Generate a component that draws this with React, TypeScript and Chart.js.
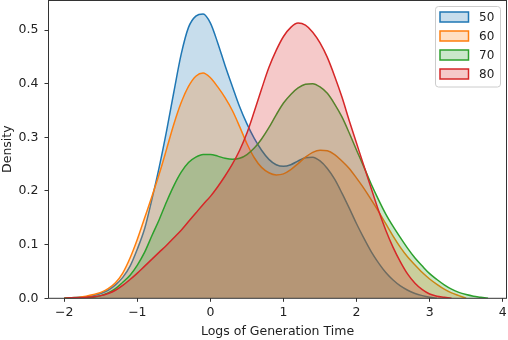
import React, { useEffect, useRef } from 'react';
import { Chart, registerables } from 'chart.js';

Chart.register(...registerables);

// x grid (Logs of Generation Time)
const xGrid = [
  -2.0, -1.9, -1.8, -1.7, -1.6, -1.5, -1.4, -1.3, -1.2, -1.1,
  -1.0, -0.9, -0.8, -0.7, -0.6, -0.5, -0.4, -0.3, -0.2, -0.1,
  0.0, 0.1, 0.2, 0.3, 0.4, 0.5, 0.6, 0.7, 0.8, 0.9,
  1.0, 1.1, 1.2, 1.3, 1.4, 1.5, 1.6, 1.7, 1.8, 1.9,
  2.0, 2.1, 2.2, 2.3, 2.4, 2.5, 2.6, 2.7, 2.8, 2.9,
  3.0, 3.1, 3.2, 3.3, 3.4, 3.5, 3.6, 3.7, 3.8,
];

const density50 = [
  0.000, 0.001, 0.002, 0.003, 0.005, 0.009, 0.015, 0.025, 0.039, 0.060,
  0.092, 0.130, 0.185, 0.245, 0.312, 0.385, 0.455, 0.505, 0.526, 0.530,
  0.513, 0.476, 0.434, 0.395, 0.357, 0.325, 0.298, 0.276, 0.259, 0.249,
  0.246, 0.249, 0.256, 0.262, 0.263, 0.256, 0.242, 0.222, 0.196, 0.168,
  0.139, 0.112, 0.087, 0.066, 0.048, 0.034, 0.023, 0.015, 0.009, 0.005,
  0.002, 0.000, null, null, null, null, null, null, null,
];

const density60 = [
  0.000, 0.001, 0.002, 0.004, 0.007, 0.011, 0.018, 0.029, 0.047, 0.075,
  0.110, 0.150, 0.190, 0.232, 0.278, 0.325, 0.365, 0.395, 0.414, 0.420,
  0.411, 0.394, 0.374, 0.350, 0.320, 0.288, 0.262, 0.244, 0.234, 0.230,
  0.232, 0.240, 0.251, 0.263, 0.272, 0.276, 0.275, 0.268, 0.256, 0.242,
  0.224, 0.205, 0.184, 0.162, 0.139, 0.116, 0.095, 0.077, 0.062, 0.048,
  0.036, 0.026, 0.017, 0.010, 0.005, 0.000, null, null, null,
];

const density70 = [
  0.000, 0.000, 0.001, 0.001, 0.002, 0.005, 0.010, 0.018, 0.030, 0.043,
  0.062, 0.086, 0.117, 0.147, 0.180, 0.210, 0.235, 0.253, 0.263, 0.268,
  0.268, 0.265, 0.261, 0.259, 0.261, 0.268, 0.280, 0.297, 0.318, 0.342,
  0.364, 0.380, 0.392, 0.399, 0.400, 0.394, 0.382, 0.362, 0.338, 0.308,
  0.276, 0.245, 0.213, 0.184, 0.157, 0.134, 0.113, 0.093, 0.075, 0.060,
  0.046, 0.035, 0.025, 0.017, 0.011, 0.007, 0.004, 0.002, 0.000,
];

const density80 = [
  0.000, 0.001, 0.001, 0.002, 0.003, 0.005, 0.009, 0.015, 0.024, 0.035,
  0.047, 0.060, 0.073, 0.086, 0.099, 0.113, 0.127, 0.143, 0.159, 0.175,
  0.190, 0.208, 0.228, 0.250, 0.276, 0.308, 0.348, 0.390, 0.430, 0.462,
  0.488, 0.505, 0.513, 0.509, 0.496, 0.476, 0.449, 0.414, 0.375, 0.331,
  0.289, 0.247, 0.205, 0.164, 0.127, 0.095, 0.068, 0.045, 0.028, 0.016,
  0.008, 0.004, 0.002, 0.000, null, null, null, null, null,
];

const seriesLabels = ['50', '60', '70', '80'];
const seriesColors = ['#1f77b4', '#ff7f0e', '#2ca02c', '#d62728'];
const seriesFills = [
  'rgba(31,119,180,0.25)',
  'rgba(255,127,14,0.25)',
  'rgba(44,160,44,0.25)',
  'rgba(214,39,40,0.25)',
];
const xTickValues = [-2, -1, 0, 1, 2, 3, 4];
const yTickValues = [0, 0.1, 0.2, 0.3, 0.4, 0.5];

const FONT = '"DejaVu Sans", sans-serif';
const TEXT = '#222222';

function toPoints(values: (number | null)[]) {
  const pts: { x: number; y: number }[] = [];
  values.forEach((v, i) => {
    if (v !== null) pts.push({ x: xGrid[i], y: v });
  });
  return pts;
}

const framePlugin = {
  id: 'frame',
  afterDatasetsDraw(chart: any) {
    const { ctx, chartArea } = chart;
    ctx.save();
    ctx.strokeStyle = '#333333';
    ctx.lineWidth = 1;
    const l = Math.round(chartArea.left) + 0.5;
    const t = Math.round(chartArea.top) + 0.5;
    const r = Math.round(chartArea.right) - 0.5;
    const b = chartArea.bottom;
    ctx.strokeRect(l, t, r - l, b - t);
    ctx.restore();
  },
};

const legendPlugin = {
  id: 'boxLegend',
  afterDraw(chart: any) {
    const { ctx, chartArea } = chart;
    ctx.save();
    const w = 65;
    const h = 80.5;
    const x0 = chartArea.right - 71.5;
    const y0 = chartArea.top + 6.5;
    const r = 3;
    ctx.beginPath();
    ctx.moveTo(x0 + r, y0);
    ctx.lineTo(x0 + w - r, y0);
    ctx.arcTo(x0 + w, y0, x0 + w, y0 + r, r);
    ctx.lineTo(x0 + w, y0 + h - r);
    ctx.arcTo(x0 + w, y0 + h, x0 + w - r, y0 + h, r);
    ctx.lineTo(x0 + r, y0 + h);
    ctx.arcTo(x0, y0 + h, x0, y0 + h - r, r);
    ctx.lineTo(x0, y0 + r);
    ctx.arcTo(x0, y0, x0 + r, y0, r);
    ctx.closePath();
    ctx.fillStyle = 'rgba(255,255,255,0.8)';
    ctx.fill();
    ctx.strokeStyle = '#cccccc';
    ctx.lineWidth = 1;
    ctx.stroke();

    ctx.font = `12px ${FONT}`;
    ctx.textBaseline = 'middle';
    ctx.textAlign = 'left';
    seriesLabels.forEach((label, i) => {
      const cy = y0 + 10.5 + 19 * i;
      const px = x0 + 4.5;
      ctx.fillStyle = seriesFills[i];
      ctx.fillRect(px, cy - 5, 28.5, 10);
      ctx.strokeStyle = seriesColors[i];
      ctx.lineWidth = 1.5;
      ctx.strokeRect(px, cy - 5, 28.5, 10);
      ctx.fillStyle = TEXT;
      ctx.fillText(label, x0 + 43.5, cy + 0.5);
    });
    ctx.restore();
  },
};

export default function App() {
  const canvasRef = useRef<HTMLCanvasElement | null>(null);

  useEffect(() => {
    const canvas = canvasRef.current;
    if (!canvas) return;
    const datasets = [density50, density60, density70, density80].map((vals, i) => ({
      label: seriesLabels[i],
      data: toPoints(vals),
      borderColor: seriesColors[i],
      backgroundColor: seriesFills[i],
      borderWidth: 1.5,
      fill: 'origin',
      pointRadius: 0,
      cubicInterpolationMode: 'monotone',
      order: 4 - i,
    }));

    const chart = new Chart(canvas, {
      type: 'line',
      data: { datasets } as any,
      plugins: [framePlugin, legendPlugin],
      options: {
        responsive: false,
        animation: false,
        devicePixelRatio: 1,
        layout: { padding: { top: 0, right: 1, left: 0, bottom: 0 } },
        plugins: {
          legend: { display: false },
          tooltip: { enabled: false },
        },
        scales: {
          x: {
            type: 'linear',
            min: -2.223,
            max: 4.059,
            afterFit: (s: any) => {
              s.height = 41.7;
              s.paddingLeft = 0;
              s.paddingRight = 0;
              s.paddingTop = 0;
              s.paddingBottom = 0;
            },
            afterBuildTicks: (s: any) => {
              s.ticks = xTickValues.map((v) => ({ value: v }));
            },
            grid: {
              display: true,
              drawOnChartArea: false,
              drawTicks: true,
              tickLength: 3.5,
              tickColor: '#333333',
              tickWidth: 1,
            },
            border: { display: false },
            ticks: {
              padding: 3.7,
              color: TEXT,
              font: { family: FONT, size: 12.5, lineHeight: 1.2 },
              maxRotation: 0,
              autoSkip: false,
              callback: (v: any) => (v < 0 ? '\u2212' + Math.abs(v) : String(v)),
            },
            title: {
              display: true,
              text: 'Logs of Generation Time',
              color: TEXT,
              font: { family: FONT, size: 12.5, lineHeight: 1.2 },
              padding: { top: 0, bottom: 0.5 },
            },
          },
          y: {
            type: 'linear',
            min: 0,
            max: 0.556,
            afterFit: (s: any) => {
              s.width = 48;
              s.paddingLeft = 0;
              s.paddingRight = 0;
              s.paddingTop = 0;
              s.paddingBottom = 0;
            },
            afterBuildTicks: (s: any) => {
              s.ticks = yTickValues.map((v) => ({ value: v }));
            },
            grid: {
              display: true,
              drawOnChartArea: false,
              drawTicks: true,
              tickLength: 3.5,
              tickColor: '#333333',
              tickWidth: 1,
            },
            border: { display: false },
            ticks: {
              padding: 6,
              color: TEXT,
              font: { family: FONT, size: 12.5, lineHeight: 1.2 },
              autoSkip: false,
              callback: (v: any) => Number(v).toFixed(1),
            },
            title: {
              display: true,
              text: 'Density',
              color: TEXT,
              font: { family: FONT, size: 12.5, lineHeight: 1.2 },
              padding: { top: 0.5, bottom: 0 },
            },
          },
        },
      } as any,
    });
    return () => chart.destroy();
  }, []);

  return (
    <div style={{ position: 'fixed', left: 0, top: 0, width: 508, height: 340, background: '#ffffff' }}>
      <canvas ref={canvasRef} width={508} height={340} style={{ display: 'block', width: 508, height: 340 }} />
    </div>
  );
}
